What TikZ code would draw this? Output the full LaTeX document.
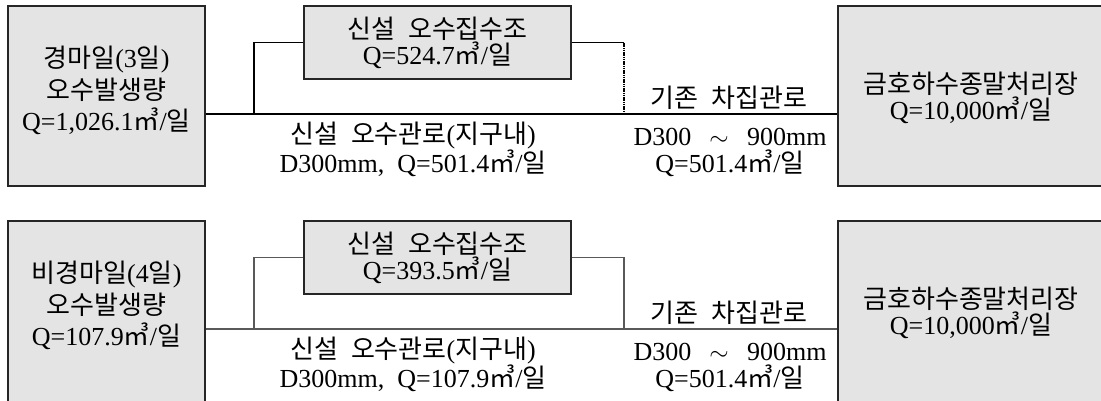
\documentclass[tikz,border=0pt]{standalone}
\usepackage{fontspec}
\setmainfont{Liberation Serif}
\newfontfamily\kofont{Noto Sans CJK KR}[Scale=1.0]
\newcommand\K[1]{{\kofont #1}}
\newcommand\cbm{\K{㎥}}
\newcommand\wsp{\hspace{0.5em}}
\definecolor{boxgray}{HTML}{E4E4E4}
\begin{document}
\begin{tikzpicture}[x=1pt,y=-1pt,
  box/.style={draw=black!85, line width=1.2pt, fill=boxgray, inner sep=0pt},
  txt/.style={align=center, inner sep=0pt, font=\fontsize{26}{#1}\selectfont},
  pipe/.style={draw=black, line width=1.1pt},
  pipeb/.style={draw=black!65, line width=1.5pt}]
\useasboundingbox (0,0) rectangle (1101,400);
\clip (0,0) rectangle (1101,400);
\fill[white] (0,0) rectangle (1101,400);

% ---------- top row ----------
\node[box, minimum width=197pt, minimum height=180pt] (src1) at (106.5,96) {};
\node[box, minimum width=267pt, minimum height=73pt] (tank1) at (437.5,42.5) {};
\node[box, minimum width=266pt, minimum height=180pt] (dst1) at (971,96) {};
\coordinate (m1L) at (254,114);
\coordinate (m1R) at (624,114);
\draw[pipe] (src1.east |- m1L) -- (dst1.west |- m1L);
\draw[pipe] (tank1.west) -| (m1L);
\draw[pipe] (tank1.east) -- (tank1.east -| m1R);
\draw[pipe, line width=1.3pt, dash pattern=on 1.2pt off 0.6pt] (tank1.east -| m1R) -- (m1R);

\node[txt=31.5] (src1t) at (106.5,90.5) {\K{경마일}(3\K{일})\\\K{오수발생량}\\Q=1,026.1\cbm/\K{일}};
\node[txt=26] (tank1t) at (437.5,43) {\K{신설}\wsp\K{오수집수조}\\Q=524.7\cbm/\K{일}};
\node[txt=26] (dst1t) at (971,98) {\K{금호하수종말처리장}\\Q=10,000\cbm/\K{일}};
\node[txt=26] (pipe1t) at (413,149) {\K{신설}\wsp\K{오수관로}(\K{지구내})\\D300mm,\wsp Q=501.4\cbm/\K{일}};
\node[txt=24] (ex1l) at (729,98) {\K{기존}\wsp\K{차집관로}};
\node[txt=27] (ex1t) at (730,152) {D300\hspace{0.7em}$\sim$\hspace{0.7em}900mm\\Q=501.4\cbm/\K{일}};

% ---------- bottom row ----------
\node[box, minimum width=197pt, minimum height=190pt] (src2) at (106.5,316) {};
\node[box, minimum width=267pt, minimum height=73pt] (tank2) at (437.5,257.5) {};
\node[box, minimum width=266pt, minimum height=190pt] (dst2) at (971,316) {};
\coordinate (m2L) at (254,329);
\coordinate (m2R) at (624,329);
\draw[pipeb] (src2.east |- m2L) -- (dst2.west |- m2L);
\draw[pipeb] (tank2.west) -| (m2L);
\draw[pipeb] (tank2.east) -| (m2R);

\node[txt=31.5] (src2t) at (106.5,305.5) {\K{비경마일}(4\K{일})\\\K{오수발생량}\\Q=107.9\cbm/\K{일}};
\node[txt=26] (tank2t) at (437.5,258) {\K{신설}\wsp\K{오수집수조}\\Q=393.5\cbm/\K{일}};
\node[txt=26] (dst2t) at (971,313) {\K{금호하수종말처리장}\\Q=10,000\cbm/\K{일}};
\node[txt=26] (pipe2t) at (413,364) {\K{신설}\wsp\K{오수관로}(\K{지구내})\\D300mm,\wsp Q=107.9\cbm/\K{일}};
\node[txt=24] (ex2l) at (729,313) {\K{기존}\wsp\K{차집관로}};
\node[txt=27] (ex2t) at (730,367) {D300\hspace{0.7em}$\sim$\hspace{0.7em}900mm\\Q=501.4\cbm/\K{일}};
\end{tikzpicture}
\end{document}
